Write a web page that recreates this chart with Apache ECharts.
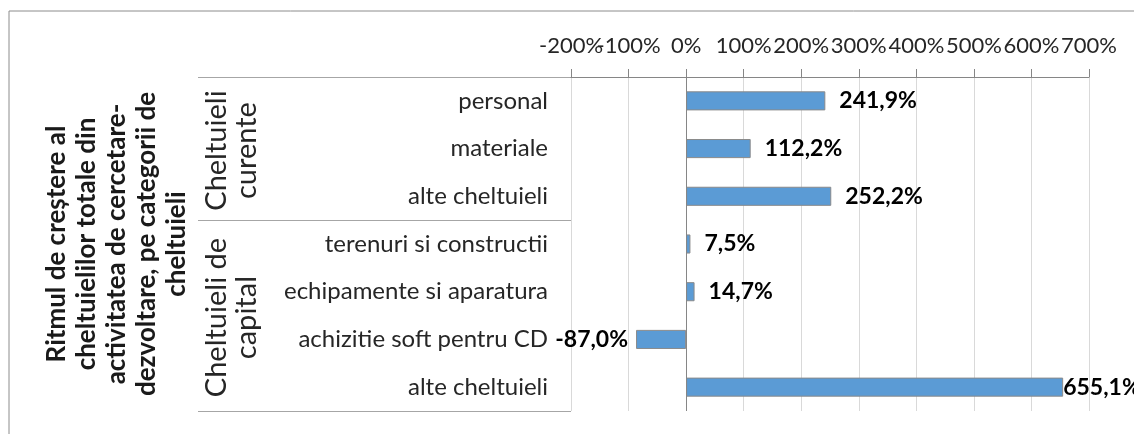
<!DOCTYPE html>
<html><head><meta charset="utf-8">
<script src="https://cdn.jsdelivr.net/npm/echarts@6/dist/echarts.min.js"></script>
<style>html,body{margin:0;padding:0;background:#fff}#c{width:1134px;height:434px}</style>
</head><body><div id="c"></div>
<script>
// ---- data ----
const categories = ['personal','materiale','alte cheltuieli','terenuri si constructii','echipamente si aparatura','achizitie soft pentru CD','alte cheltuieli'];
const values = [241.9, 112.2, 252.2, 7.5, 14.7, -87.0, 655.1];
const groups = ['Cheltuieli\ncurente', 'Cheltuieli de\ncapital'];
const groupSizes = [3, 4];
const xMin = -200, xMax = 700, xInterval = 100;
const axisTitle = 'Ritmul de creștere al\ncheltuielilor totale din\nactivitatea de cercetare-\ndezvoltare, pe categorii de\ncheltuieli';

const FONT = 'Lato';
const TEXT = '#262626';
const fmt = v => v.toFixed(1).replace('.', ',') + '%';
const gridBox = {left: 571, right: 45, top: 77, bottom: 23, containLabel: false, outerBoundsMode: 'none'};
const tickLabelStyle = {fontFamily: FONT, fontSize: 22, color: TEXT, margin: 20,
  hideOverlap: false, showMinLabel: true, showMaxLabel: true};
// two interleaved label sets so neighbouring (overlapping) labels are not dropped
const isEven = v => Math.round((v - xMin) / xInterval) % 2 === 0;

const chart = echarts.init(document.getElementById('c'), null, {renderer: 'canvas'});
const option = {
  animation: false,
  backgroundColor: '#fff',
  textStyle: {fontFamily: FONT},
  grid: [Object.assign({}, gridBox), Object.assign({}, gridBox)],
  xAxis: [{
    type: 'value', position: 'top', min: xMin, max: xMax, interval: xInterval, gridIndex: 0,
    axisLine: {show: true, lineStyle: {color: '#868686', width: 1}},
    axisTick: {show: true, length: 8, lineStyle: {color: '#868686'}},
    splitLine: {show: true, lineStyle: {color: '#d9d9d9', width: 1}},
    axisLabel: Object.assign({formatter: v => isEven(v) ? v + '%' : ''}, tickLabelStyle)
  }, {
    type: 'value', position: 'top', min: xMin, max: xMax, interval: xInterval, gridIndex: 1,
    axisLine: {show: false}, axisTick: {show: false}, splitLine: {show: false},
    axisLabel: Object.assign({formatter: v => isEven(v) ? '' : v + '%'}, tickLabelStyle)
  }],
  yAxis: [{
    type: 'category', inverse: true, data: categories, gridIndex: 0,
    axisLine: {show: false}, axisTick: {show: false}, splitLine: {show: false},
    axisLabel: {fontFamily: FONT, fontSize: 24, color: TEXT, margin: 23, interval: 0},
    name: axisTitle, nameLocation: 'middle', nameRotate: 90, nameGap: 379,
    nameTextStyle: {fontFamily: FONT, fontSize: 26, fontWeight: 'bold', color: '#1a1a1a', lineHeight: 30, align: 'center'}
  }, {
    type: 'category', inverse: true, data: categories, gridIndex: 1, show: false
  }],
  series: [{
    type: 'bar',
    xAxisIndex: 0, yAxisIndex: 0,
    barCategoryGap: '60%',
    data: values.map(v => ({
      value: v,
      label: {position: v < 0 ? 'left' : 'right', distance: v < 0 ? 8 : (v > 600 ? 0 : 14)}
    })),
    itemStyle: {color: '#5B9BD5', borderColor: '#8a8a8a', borderWidth: 1},
    label: {show: true, formatter: p => fmt(p.value), fontFamily: FONT, fontSize: 23, fontWeight: 'bold', color: '#000'},
    markLine: {
      silent: true, symbol: 'none', label: {show: false},
      lineStyle: {color: '#868686', type: 'solid', width: 1},
      data: [{xAxis: 0}]
    }
  }]
};
chart.setOption(option);

// decoration: left table lines and group labels, positioned from the library's scales
const yc = i => chart.convertToPixel({yAxisIndex: 0}, i);
const band = Math.abs(yc(1) - yc(0));
const gridLeft = chart.convertToPixel({xAxisIndex: 0}, xMin);
const tableLeft = 198;
const els = [
  {type: 'rect', shape: {x: 9, y: 11, width: 1300, height: 600}, style: {fill: 'none', stroke: '#8c8c8c', lineWidth: 1}, silent: true, z: -1}
];
let start = 0;
const bounds = [yc(0) - band / 2];
groupSizes.forEach((n, gi) => {
  const top = yc(start) - band / 2;
  const bot = yc(start + n - 1) + band / 2;
  bounds.push(bot);
  els.push({type: 'text', x: 232, y: (top + bot) / 2 + 2, rotation: Math.PI / 2,
    style: {text: groups[gi], font: '29px ' + FONT, fill: TEXT, align: 'center', verticalAlign: 'middle', lineHeight: 30}, silent: true});
  start += n;
});
bounds.forEach(b => {
  const yy = Math.round(b) + 0.5;
  els.push({type: 'line', shape: {x1: tableLeft, y1: yy, x2: gridLeft, y2: yy}, style: {stroke: '#a6a6a6', lineWidth: 1}, silent: true});
});
chart.setOption({graphic: els});
</script>
</body></html>
